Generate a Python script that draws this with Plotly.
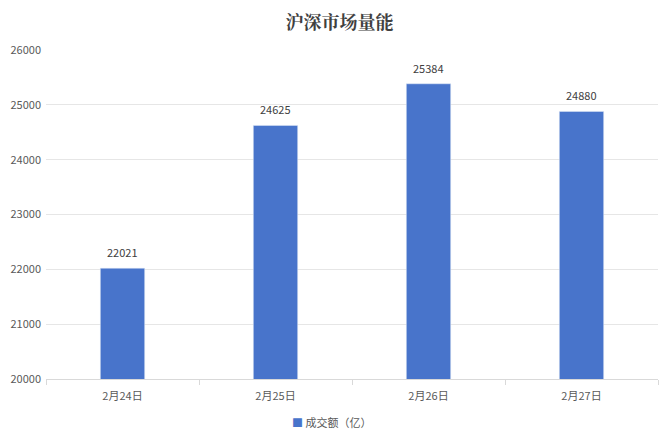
import plotly.graph_objects as go

dates = ["2月24日", "2月25日", "2月26日", "2月27日"]
volume = [22021, 24625, 25384, 24880]
series_name = "成交额（亿）"

font_cn = "Microsoft YaHei, Noto Sans CJK SC, sans-serif"
bar_color = "#4874CB"

fig = go.Figure()
fig.add_trace(go.Bar(
    x=dates, y=volume, name=series_name,
    marker_color=bar_color, width=0.29,
))

# value labels a bit higher above the bars than plotly's own outside text
for d, v in zip(dates, volume):
    fig.add_annotation(x=d, y=v, text=str(v), showarrow=False, yanchor="middle", yshift=16,
                       font=dict(size=11, color="#404040", family=font_cn))

# legend drawn as annotation so it doesn't push the margins
fig.add_annotation(
    text=f"<span style='color:{bar_color}'>■</span> {series_name}",
    xref="paper", yref="paper", x=0.467, y=-0.131, xanchor="center", yanchor="middle",
    showarrow=False, font=dict(size=11, color="#595959", family=font_cn),
)

# page body has an 8px margin, so the figure is 8px smaller than the window
fig.update_layout(
    width=663, height=432,
    paper_bgcolor="white", plot_bgcolor="white",
    margin=dict(l=38, r=13, t=42, b=61),
    title=dict(text="<b>沪深市场量能</b>", x=0.5, xanchor="center", y=0.967, yanchor="middle",
               font=dict(size=18, color="#404040", family="Noto Serif CJK SC, Noto Sans CJK SC, serif")),
    font=dict(family=font_cn, size=11, color="#595959"),
    showlegend=False,
)
fig.update_xaxes(showline=True, linecolor="#d9d9d9", ticks="outside", tickson="boundaries",
                 tickcolor="#d9d9d9", ticklen=5, tickfont=dict(size=11, color="#595959"),
                 automargin=False, ticklabelstandoff=7)
fig.update_yaxes(range=[20000, 26000], dtick=1000, showgrid=True, gridcolor="#e6e6e6",
                 zeroline=False, ticks="", tickformat="d", tickfont=dict(size=11, color="#595959"),
                 automargin=False, ticklabelstandoff=4)

fig.write_html("out.html")
